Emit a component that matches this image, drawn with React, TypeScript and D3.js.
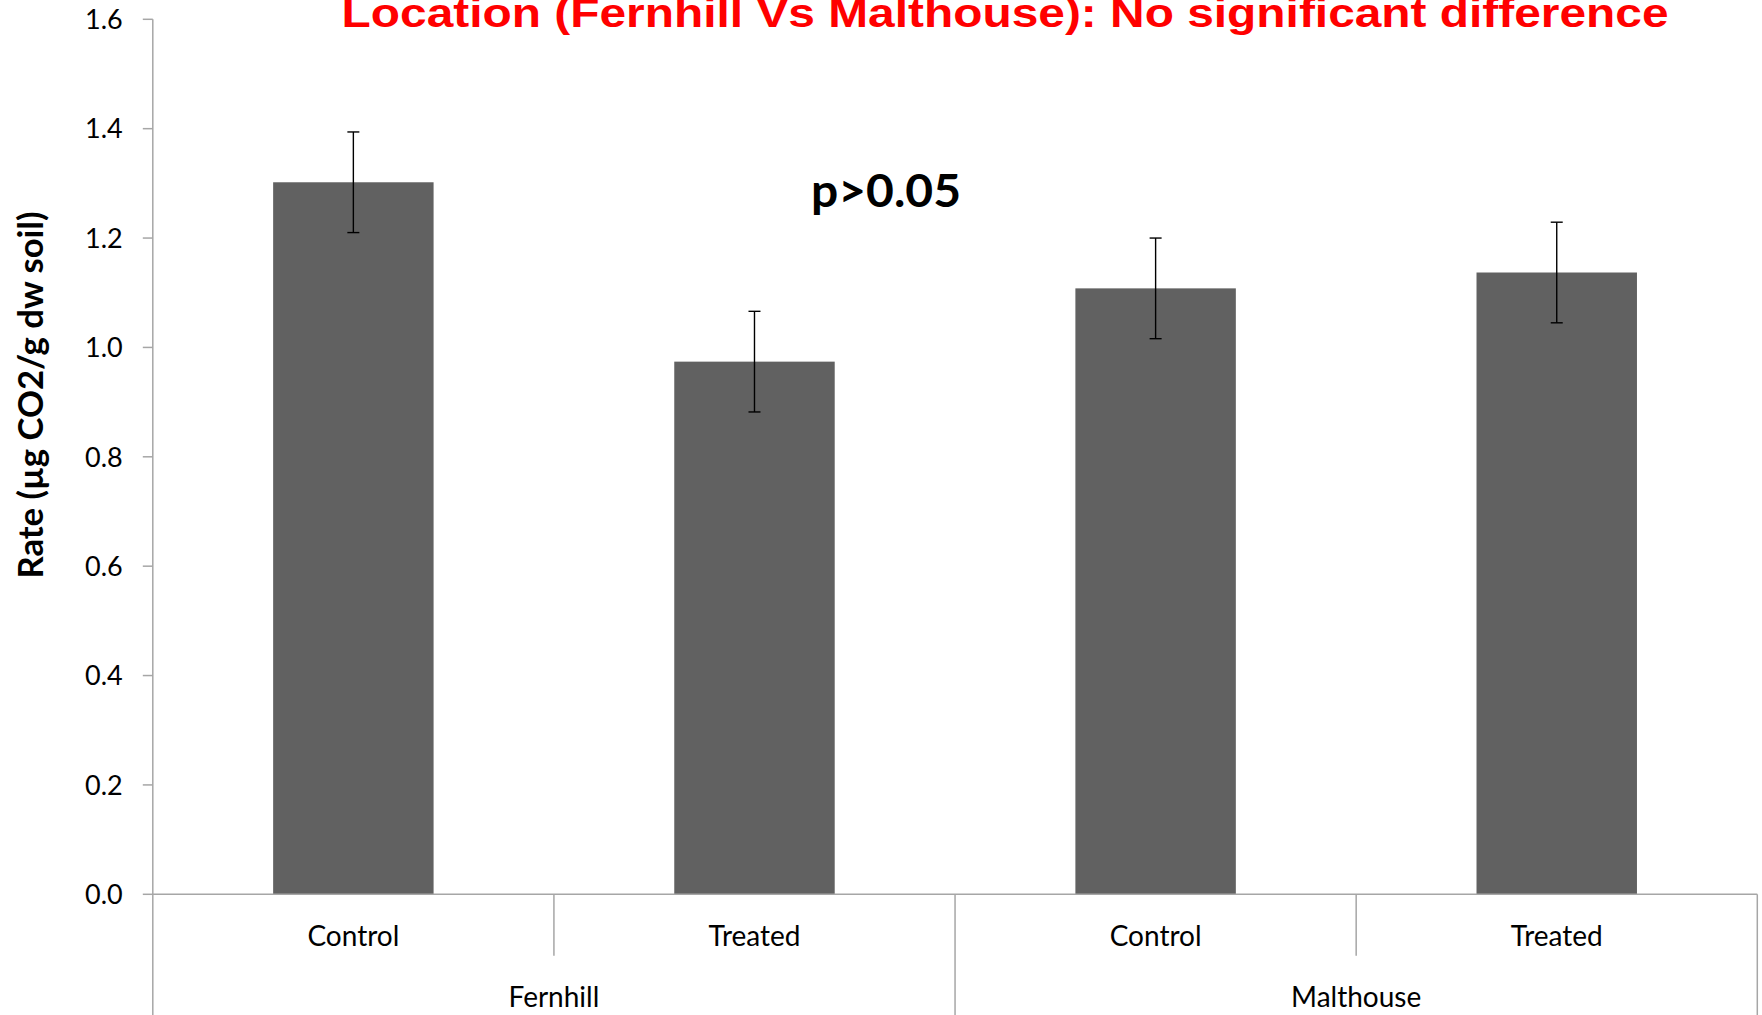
import React from "react";
import * as d3 from "d3";

const categories = ["Control", "Treated", "Control", "Treated"];
const groups = ["Fernhill", "Malthouse"];
const values = [1.302, 0.974, 1.108, 1.137];
const errors = [0.092, 0.092, 0.092, 0.092];
const yTicks = [0, 0.2, 0.4, 0.6, 0.8, 1.0, 1.2, 1.4, 1.6];
const title = "Location (Fernhill Vs Malthouse): No significant difference";
const annotation = "p>0.05";
const yLabel = "Rate (µg CO2/g dw soil)";

const W = 1762;
const H = 1015;
const left = 152.8;
const right = 1757.3;
const top = 19.3;
const bottom = 894.3;
const axisColor = "#a6a6a6";
const font = "Lato, 'Open Sans', sans-serif";

export default function App() {
  const idx = categories.map((_, i) => String(i));
  const x = d3.scaleBand<string>().domain(idx).range([left, right]).paddingInner(0.6).paddingOuter(0.3);
  const y = d3.scaleLinear().domain([0, 1.6]).range([bottom, top]);
  const catW = (right - left) / categories.length;
  const groupW = (right - left) / groups.length;

  return (
    <svg width={W} height={H} style={{ position: "absolute", left: 0, top: 0, display: "block", background: "#fff" }}>
      <rect x={0} y={0} width={W} height={H} fill="#fff" />
      {/* bars */}
      {values.map((v, i) => (
        <rect key={"b" + i} x={x(String(i))} y={y(v)} width={x.bandwidth()} height={y(0) - y(v)} fill="#616161" />
      ))}
      {/* error bars */}
      {values.map((v, i) => {
        const cx = (x(String(i)) as number) + x.bandwidth() / 2;
        const y1 = y(v + errors[i]);
        const y2 = y(v - errors[i]);
        return (
          <g key={"e" + i} stroke="#000" strokeWidth={1.4}>
            <line x1={cx} x2={cx} y1={y1} y2={y2} />
            <line x1={cx - 6} x2={cx + 6} y1={y1} y2={y1} />
            <line x1={cx - 6} x2={cx + 6} y1={y2} y2={y2} />
          </g>
        );
      })}
      {/* y axis */}
      <line x1={left} x2={left} y1={top} y2={H} stroke={axisColor} strokeWidth={1.5} />
      {yTicks.map((t) => (
        <g key={"t" + t}>
          <line x1={left - 10} x2={left} y1={y(t)} y2={y(t)} stroke={axisColor} strokeWidth={1.5} />
          <text x={122.7} y={y(t)} dy="0.36em" textAnchor="end" fontFamily={font} fontSize={27} fill="#000">
            {t.toFixed(1)}
          </text>
        </g>
      ))}
      {/* x axis */}
      <line x1={left} x2={right} y1={bottom} y2={bottom} stroke={axisColor} strokeWidth={1.5} />
      {categories.map((c, i) => {
        const sx = left + catW * (i + 1);
        const isGroupEdge = (i + 1) % 2 === 0;
        return (
          <line key={"s" + i} x1={sx} x2={sx} y1={bottom} y2={isGroupEdge ? H : 955.7} stroke={axisColor} strokeWidth={1.5} />
        );
      })}
      {categories.map((c, i) => (
        <text key={"c" + i} x={(x(String(i)) as number) + x.bandwidth() / 2} y={946} textAnchor="middle" fontFamily={font} fontSize={28} fill="#000">
          {c}
        </text>
      ))}
      {groups.map((g, i) => (
        <text key={"g" + i} x={left + groupW * (i + 0.5)} y={1007} textAnchor="middle" fontFamily={font} fontSize={28} fill="#000">
          {g}
        </text>
      ))}
      {/* y label */}
      <text
        transform={`translate(42.7, 395) rotate(-90)`}
        textAnchor="middle"
        fontFamily={font}
        fontWeight="bold"
        fontSize={34}
        textLength={367}
        lengthAdjust="spacingAndGlyphs"
        fill="#000"
      >
        {yLabel}
      </text>
      {/* annotation */}
      <text x={811} y={206.7} fontFamily={font} fontWeight="bold" fontSize={46} textLength={150} lengthAdjust="spacingAndGlyphs" fill="#000">
        {annotation}
      </text>
      {/* title */}
      <text x={341.6} y={26.5} fontFamily="'Liberation Sans', Arial, sans-serif" fontWeight="bold" fontSize={40} textLength={1327} lengthAdjust="spacingAndGlyphs" fill="#ff0000">
        {title}
      </text>
    </svg>
  );
}
